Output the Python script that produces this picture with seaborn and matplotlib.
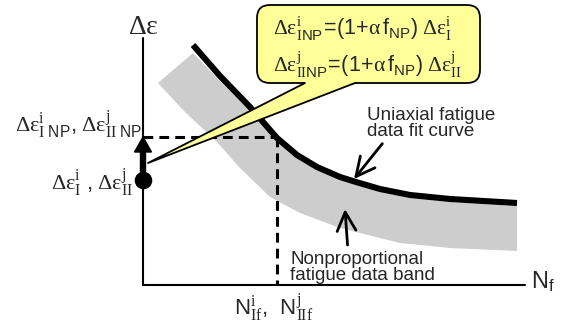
import matplotlib
matplotlib.use('Agg')
import matplotlib.pyplot as plt
import seaborn as sns
from matplotlib.patches import FancyBboxPatch, Polygon

# Esquema: coordenadas em "vida" (N, para a direita do eixo) e "deformação" (Δε, acima do eixo)
curva_n = [50, 77, 107, 134, 154, 174, 197, 213, 237, 267, 307, 374]
curva_eps = [240, 209, 178, 147, 130, 118, 108, 103, 96, 90, 86, 82]

faixa_sup_n = [50, 77, 107, 134, 154, 174, 197, 213, 237, 267, 307, 374]
faixa_sup_eps = [232, 204, 174, 144, 127, 115, 105, 100, 93, 87, 83, 79]
faixa_inf_n = [15, 42, 74, 97, 127, 157, 197, 257, 307, 374]
faixa_inf_eps = [202, 173, 143, 117, 88, 72, 57, 42, 37, 34]

eps_base = 105      # Δε_I, Δε_II
eps_np = 148        # Δε_I NP, Δε_II NP
n_falha = 134       # N_If, N_IIf
n_max = 382
eps_max = 247

caixa_n = [114, 337]
caixa_eps = [202, 280]
ponta = [5, 122]

sns.set_theme(style='white')
plt.rcParams['font.family'] = ['Liberation Sans', 'DejaVu Sans']
plt.rcParams['mathtext.fontset'] = 'custom'
plt.rcParams['mathtext.rm'] = 'Liberation Serif'
plt.rcParams['mathtext.sf'] = 'Liberation Sans'
plt.rcParams['mathtext.it'] = 'Liberation Serif:italic'
plt.rcParams['mathtext.default'] = 'regular'

fig = plt.figure(figsize=(5.63, 3.29), dpi=100)
ax = fig.add_axes([0, 0, 1, 1])
ax.set_xlim(-143, 420)
ax.set_ylim(-44, 285)
ax.axis('off')

# faixa de dados não proporcionais
poli_n = faixa_inf_n[::-1] + faixa_sup_n
poli_eps = faixa_inf_eps[::-1] + faixa_sup_eps
ax.fill(poli_n, poli_eps, color='#cdcdcd', lw=0, zorder=1)

# curva uniaxial
sns.lineplot(x=curva_n, y=curva_eps, sort=False, color='black', lw=4.4, ax=ax, zorder=3)
ax.lines[-1].set_solid_capstyle('butt')
ax.lines[-1].set_solid_joinstyle('round')

# eixos
ax.plot([0, n_max], [0, 0], color='black', lw=1.5, zorder=2)
ax.plot([0, 0], [0, eps_max], color='black', lw=1.5, zorder=2)

# linhas tracejadas
ax.plot([0, n_falha], [eps_np, eps_np], color='black', lw=2.2, ls=(0, (3.2, 2)), zorder=2)
ax.plot([n_falha, n_falha], [eps_np, 0], color='black', lw=2.2, ls=(0, (3.2, 2)), zorder=2)

# seta do aumento
ax.arrow(0, eps_base, 0, eps_np - eps_base, width=5, head_width=17, head_length=15,
         length_includes_head=True, color='black', zorder=5)
ax.scatter([0], [eps_base], s=135, color='black', zorder=6)

# balão
caixa = FancyBboxPatch((caixa_n[0], caixa_eps[0]), caixa_n[1] - caixa_n[0], caixa_eps[1] - caixa_eps[0],
                       boxstyle='round,pad=0,rounding_size=13', fc='#ffff99', ec='black', lw=1.3, zorder=7)
ax.add_patch(caixa)
base1 = [162, caixa_eps[0]]
base2 = [212, caixa_eps[0]]
ax.add_patch(Polygon([[base1[0], base1[1] + 3], base1, ponta, base2, [base2[0], base2[1] + 3]],
                     closed=True, fc='#ffff99', ec='none', zorder=8))
ax.plot([base1[0], ponta[0], base2[0]], [base1[1], ponta[1], base2[1]], color='black', lw=1.3, zorder=9)

DE = r'\mathrm{\Delta\varepsilon}'
meio = r'\!\mathsf{=}\!\mathsf{(1\!+\!}\mathrm{\alpha}\,\mathsf{f}_{\mathsf{NP}}\mathsf{)}\ '
eq1 = r'$' + DE + r'^{\mathrm{i}}_{\mathrm{I}\mathsf{NP}}' + meio + DE + r'^{\mathrm{i}}_{\mathrm{I}}$'
eq2 = r'$' + DE + r'^{\mathrm{j}}_{\mathrm{II}\mathsf{NP}}' + meio + DE + r'^{\mathrm{j}}_{\mathrm{II}}$'
ax.text(130, 250, eq1, fontsize=15.5, va='baseline', ha='left', zorder=10)
ax.text(130, 213, eq2, fontsize=15.5, va='baseline', ha='left', zorder=10)

# rótulos dos eixos
ax.text(0, 258, r'$' + DE + r'$', fontsize=20, ha='center', va='center')
ax.text(388, -3, r'N$_{\mathsf{f}}$', fontsize=17, ha='left', va='baseline')

ax.text(-1, 153, r'$' + DE + r'^{\mathrm{i}}_{\mathrm{I}\ \mathsf{NP}}\mathsf{,}\ ' + DE + r'^{\mathrm{j}}_{\mathrm{II}\ \mathsf{NP}}$',
        fontsize=16, ha='right', va='baseline')
ax.text(-10, 95, r'$' + DE + r'^{\mathrm{i}}_{\mathrm{I}}\ \mathsf{,}\ ' + DE + r'^{\mathrm{j}}_{\mathrm{II}}$',
        fontsize=16, ha='right', va='baseline')
ax.text(n_falha - 3, -23, r'N$^{\mathrm{i}}_{\mathrm{If}}$,  N$^{\mathrm{j}}_{\mathrm{IIf}}$',
        fontsize=16, ha='center', va='center')

# anotações
ax.annotate('Uniaxial fatigue\ndata fit curve', xy=(211, 106), xytext=(224, 178),
            fontsize=13.5, ha='left', va='top', linespacing=0.95,
            arrowprops=dict(arrowstyle='->,head_length=1.0,head_width=0.5', lw=2, color='black',
                            shrinkA=0, shrinkB=0, relpos=(0.14, 0)))
ax.annotate('Nonproportional\nfatigue data band', xy=(202, 76), xytext=(147, 34),
            fontsize=13.5, ha='left', va='top', linespacing=0.95,
            arrowprops=dict(arrowstyle='->,head_length=1.0,head_width=0.5', lw=2, color='black',
                            shrinkA=2, shrinkB=0, relpos=(0.4, 1)))

plt.savefig('out.png', dpi=100)
plt.close()
